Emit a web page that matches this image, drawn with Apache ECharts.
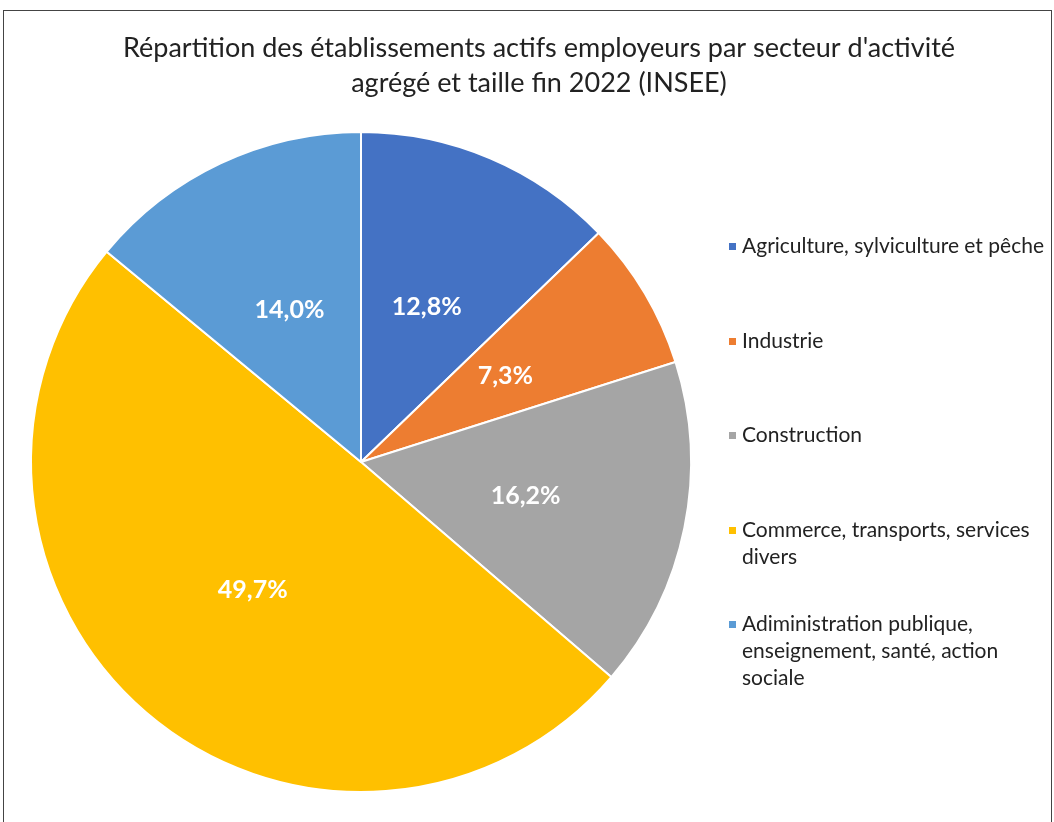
<!DOCTYPE html>
<html>
<head>
<meta charset="utf-8">
<script src="https://cdn.jsdelivr.net/npm/echarts@6/dist/echarts.min.js"></script>
<style>
  html, body { margin: 0; padding: 0; background: #fff; }
  #frame {
    position: absolute; left: 3px; top: 10px; width: 1049px; height: 830px;
    border: 1px solid #444; box-sizing: border-box;
  }
  #chart { position: absolute; left: 0; top: 0; width: 1054px; height: 822px; }
</style>
</head>
<body>
<div id="frame"></div>
<div id="chart"></div>
<script>
const sectors = [
  'Agriculture, sylviculture et pêche',
  'Industrie',
  'Construction',
  'Commerce, transports, services divers',
  'Adiministration publique, enseignement, santé, action sociale'
];
const shares = [12.8, 7.3, 16.2, 49.7, 14.0];
const legendLines = [
  ['Agriculture, sylviculture et pêche'],
  ['Industrie'],
  ['Construction'],
  ['Commerce, transports, services', 'divers'],
  ['Adiministration publique,', 'enseignement, santé, action', 'sociale']
];

const COLORS = ['#4472C4', '#ED7D31', '#A5A5A5', '#FFC000', '#5B9BD5'];
const FONT = 'Lato, "Open Sans", sans-serif';
const LINE_H = 27;
const LEGEND_TOPS = [232, 327, 421, 516, 610];

// square marker on the first text line, tiny sliver at the bottom keeps the box tall
function markerPath(lines) {
  const h = lines * LINE_H;
  const y = (LINE_H - 9) / 2;
  return `path://M0,${y}h9v9h-9z M0,${h - 0.01}h0.01v0.01h-0.01z M8.99,0h0.01v0.01h-0.01z`;
}

const legends = sectors.map((name, i) => ({
  orient: 'vertical',
  left: 727,
  top: LEGEND_TOPS[i],
  padding: 0,
  data: [{ name, icon: markerPath(legendLines[i].length) }],
  itemWidth: 9,
  itemHeight: legendLines[i].length * LINE_H,
  itemGap: 5,
  formatter: () => legendLines[i].join('\n'),
  selectedMode: false,
  textStyle: { fontFamily: FONT, fontSize: 21, color: '#222', lineHeight: LINE_H }
}));

const chart = echarts.init(document.getElementById('chart'), null, { renderer: 'canvas' });
chart.setOption({
  animation: false,
  color: COLORS,
  title: {
    text: 'Répartition des établissements actifs employeurs par secteur d\'activité\nagrégé et taille fin 2022 (INSEE)',
    left: 534,
    textAlign: 'center',
    top: 26,
    textStyle: { fontFamily: FONT, fontSize: 27, fontWeight: 'normal', color: '#222', lineHeight: 35 }
  },
  legend: legends,
  series: [
    {
      type: 'pie',
      center: [361, 462],
      radius: 330,
      startAngle: 90,
      clockwise: true,
      data: sectors.map((name, i) => ({ name, value: shares[i] })),
      itemStyle: { borderColor: '#fff', borderWidth: 2 },
      label: {
        show: true,
        position: 'inside',
        formatter: (p) => p.value.toFixed(1).replace('.', ',') + '%',
        color: '#fff',
        fontFamily: FONT,
        fontSize: 25,
        fontWeight: 'bold'
      },
      labelLine: { show: false },
      emphasis: { disabled: true }
    }
  ]
});
</script>
</body>
</html>
